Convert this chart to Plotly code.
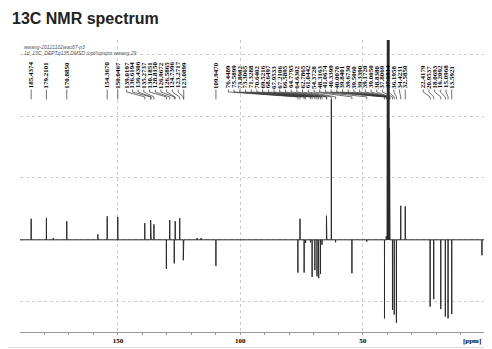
import plotly.graph_objects as go

title_text = "13C NMR spectrum"
header_lines = ["wwang-20121102wac67-p3", "1d_13C_DEPTq135 DMSO /opt/topspin wwang 29"]

# peak positions (ppm) and intensities (grid units, baseline = 0)
peak_ppm = [185.4374, 179.2101, 176.40, 170.8850, 158.20, 154.3670, 150.0467,
            139.0197, 136.6194, 136.4306, 135.2737, 130.1851, 128.8150, 126.9672,
            126.5865, 124.7396, 123.2717, 123.0899, 117.60, 116.00, 109.9470,
            76.4489, 75.5899, 73.8982, 73.3065, 71.3288, 70.6402, 69.5216, 68.6497,
            67.9533, 67.2106, 66.5895, 64.7795, 64.6302, 62.7865, 61.0442, 54.3728,
            48.3163, 41.0674, 40.3399, 40.0070, 39.8401, 39.6730, 39.5060, 39.3390,
            39.1720, 39.0050, 38.8380, 37.8069, 37.0914, 36.1958, 34.4231, 32.5850,
            22.4179, 20.9537, 18.0693, 16.2092, 15.0968, 13.5921, 1.25]
peak_int = [0.34, 0.35, 0.03, 0.30, 0.09, 0.38, 0.37,
            0.27, 0.32, 0.29, 0.25, -0.47, 0.32, -0.38,
            0.30, 0.35, -0.33, -0.05, 0.03, 0.03, -0.42,
            -0.53, 0.34, -0.53, -0.05, -0.04, -0.60, -0.49, -0.59,
            -0.62, -0.55, -0.08, 0.39, 0.04, 2.27, -0.04, -0.54,
            -0.03, -1.27, 0.06, 1.8, 6.0, 30.0, 40.0, 30.0,
            6.0, 1.8, 0.05, -1.13, -1.21, -1.34, 0.55, 0.54,
            -1.08, -0.96, -1.12, -1.24, -1.27, -1.20, -0.25]

# labelled peaks (ppm)
label_ppm = [185.4374, 179.2101, 170.8850, 154.3670, 150.0467,
             139.0197, 136.6194, 136.4306, 135.2737, 130.1851, 128.8150, 126.9672,
             126.5865, 124.7396, 123.2717, 123.0899, 109.9470,
             76.4489, 75.5899, 73.8982, 73.3065, 71.3288, 70.6402, 69.5216, 68.6497,
             67.9533, 67.2106, 66.5895, 64.7795, 64.6302, 62.7865, 61.0442, 54.3728,
             48.3163, 41.0674, 40.3399, 40.0070, 39.8401, 39.6730, 39.5060, 39.3390,
             39.1720, 39.0050, 38.8380, 37.8069, 37.0914, 36.1958, 34.4231, 32.5850,
             22.4179, 20.9537, 18.0693, 16.2092, 15.0968, 13.5921]

x_tick_vals = [150, 100, 50]
x_tick_text = ["150", "100", "50"]
x_minor_vals = [180, 170, 160, 140, 130, 120, 110, 90, 80, 70, 60, 40, 30, 20, 10]

X_RANGE = [190, 0]
Y_RANGE = [-1.49, 3.23]

# page body has an 8px margin: work in page pixels and shift by it
OFF = 8
W, H = 492 - OFF, 349 - OFF
plot_left, plot_right, plot_top, plot_bottom = 20 - OFF, 488 - OFF, 40 - OFF, 333 - OFF
plot_w = plot_right - plot_left
plot_h = plot_bottom - plot_top

# ---- spectrum trace built from peak list ----
order = sorted(range(len(peak_ppm)), key=lambda i: -peak_ppm[i])
w = 0.02
xs, ys = [X_RANGE[0]], [0.0]
for i in order:
    p, h = peak_ppm[i], peak_int[i]
    xs += [p + w, p, p - w]
    ys += [0.0, h, 0.0]
xs.append(X_RANGE[1])
ys.append(0.0)

fig = go.Figure()
fig.add_trace(go.Scatter(x=xs, y=ys, mode="lines",
                         line=dict(color="#2a2a2a", width=1), hoverinfo="skip",
                         showlegend=False))

# ---- label placement (push from right) ----
spacing = 2.332
asc = sorted(label_ppm)
pos = {}
prev = None
for v in asc:
    p = v if prev is None else max(v, prev + spacing)
    pos[v] = p
    prev = p

y_a, y_b, y_c, y_d = 2.43, 2.39, 2.31, 2.27
cx, cy = [], []
for v in label_ppm:
    lp = pos[v]
    cx += [lp, lp, v, v, None]
    cy += [y_a, y_b, y_c, y_d, None]
fig.add_trace(go.Scatter(x=cx, y=cy, mode="lines",
                         line=dict(color="#333333", width=0.7), hoverinfo="skip",
                         showlegend=False))

annotations = []
for v in label_ppm:
    annotations.append(dict(x=pos[v], y=y_a, xref="x", yref="y",
                            text="<b>%.4f</b>" % v, showarrow=False,
                            textangle=-90, xanchor="center", yanchor="bottom",
                            borderpad=0,
                            font=dict(family="Liberation Serif", size=7, color="#000000")))

header_y = [47, 53]
for txt, yy in zip(header_lines, header_y):
    annotations.append(dict(x=(22 - OFF - plot_left) / plot_w,
                            y=(plot_bottom - (yy - OFF)) / plot_h,
                            xref="paper", yref="paper", text="<i>%s</i>" % txt,
                            showarrow=False, xanchor="left", yanchor="middle",
                            font=dict(family="Liberation Sans", size=5, color="#555555")))

annotations.append(dict(x=(475 - OFF - plot_left) / plot_w,
                        y=-((342 - OFF) - plot_bottom) / plot_h,
                        xref="paper", yref="paper", text="<b>[ppm]</b>",
                        showarrow=False, xanchor="center", yanchor="middle",
                        font=dict(family="Liberation Serif", size=7, color="#000000")))

fig.update_layout(
    width=W, height=H,
    margin=dict(l=plot_left, r=W - plot_right, t=plot_top, b=H - plot_bottom, pad=0),
    paper_bgcolor="white", plot_bgcolor="white",
    title=dict(text="<b>%s</b>" % title_text, xref="container", yref="container",
               x=(12 - OFF) / W, xanchor="left", y=1 - (18.5 - OFF) / H, yanchor="middle",
               font=dict(family="Liberation Sans", size=16, color="#222222")),
    annotations=annotations,
    showlegend=False,
    xaxis=dict(range=X_RANGE, showline=True, linecolor="#999", linewidth=1,
               ticks="outside", ticklen=2, tickcolor="#999",
               tickmode="array", tickvals=x_tick_vals,
               ticktext=["<b>%s</b>" % t for t in x_tick_text],
               tickfont=dict(family="Liberation Serif", size=7, color="#000000"),
               showgrid=True, gridcolor="#cccccc", griddash="dot", gridwidth=1,
               zeroline=False,
               minor=dict(tickmode="array", tickvals=x_minor_vals, ticks="outside",
                          ticklen=2, tickcolor="#999", showgrid=False)),
    yaxis=dict(range=Y_RANGE, side="right", showline=True, linecolor="#999",
               linewidth=1, ticks="outside", ticklen=3, tickcolor="#999",
               tick0=0, dtick=1, showticklabels=False,
               showgrid=True, gridcolor="#cccccc", griddash="dot", gridwidth=1,
               zeroline=False,
               minor=dict(tick0=0, dtick=0.2, ticks="outside", ticklen=3,
                          tickcolor="#999", showgrid=False)),
)

bottom_line_y = -((H - 0.5) - plot_bottom) / plot_h
fig.add_shape(type="line", xref="paper", yref="paper", x0=(0 - plot_left) / plot_w,
              x1=(W - plot_left) / plot_w, y0=bottom_line_y, y1=bottom_line_y,
              line=dict(color="#dddddd", width=1))

fig.write_html("out.html")
